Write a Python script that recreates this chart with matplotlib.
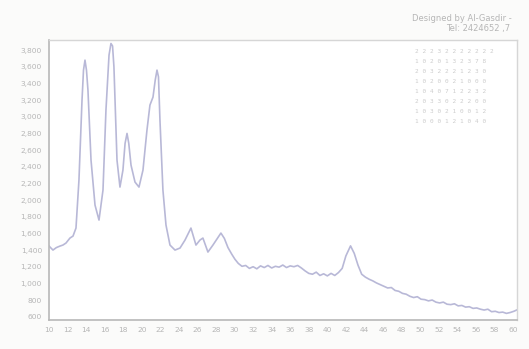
import matplotlib
matplotlib.use("Agg")
import matplotlib.pyplot as plt
from matplotlib.ticker import FuncFormatter

# 2-theta (degrees) and intensity (counts) of the diffraction scan
two_theta = [
    10.00, 10.11, 10.43, 10.80, 11.19, 11.50, 11.83, 12.26, 12.59, 12.91,
    13.23, 13.56, 13.72, 13.88, 14.04, 14.20, 14.53, 14.96, 15.39, 15.82,
    16.14, 16.47, 16.68, 16.85, 17.00, 17.33, 17.65, 17.97, 18.20, 18.41,
    18.60, 18.84, 19.27, 19.70, 20.13, 20.56, 20.88, 21.21, 21.45, 21.64,
    21.80, 21.96, 22.28, 22.61, 23.04, 23.58, 24.12, 24.66, 25.30, 25.84,
    26.27, 26.59, 27.13, 27.67, 28.53, 28.90, 29.29, 29.70, 30.04, 30.40,
    30.80, 31.20, 31.60, 32.00, 32.40, 32.80, 33.20, 33.60, 34.00, 34.40,
    34.80, 35.20, 35.60, 36.00, 36.40, 36.80, 37.20, 37.60, 38.00, 38.40,
    38.80, 39.20, 39.60, 40.00, 40.40, 40.80, 41.20, 41.60, 42.00, 42.50,
    42.90, 43.30, 43.70, 44.10, 44.50, 44.90, 45.30, 45.70, 46.10, 46.50,
    46.90, 47.30, 47.70, 48.10, 48.50, 48.90, 49.30, 49.70, 50.10, 50.50,
    50.90, 51.30, 51.70, 52.10, 52.50, 52.90, 53.30, 53.70, 54.10, 54.50,
    54.90, 55.30, 55.70, 56.10, 56.50, 56.90, 57.30, 57.70, 58.10, 58.50,
    58.90, 59.30, 59.70, 60.10, 60.40,
]
intensity = [
    1450, 1436, 1400, 1430, 1448, 1460, 1484, 1544, 1568, 1664,
    2240, 3200, 3560, 3680, 3560, 3320, 2480, 1940, 1760, 2120,
    3080, 3740, 3880, 3850, 3600, 2480, 2156, 2360, 2680, 2800,
    2680, 2420, 2216, 2156, 2360, 2840, 3140, 3236, 3440, 3560,
    3480, 2960, 2120, 1700, 1460, 1400, 1424, 1520, 1664, 1460,
    1520, 1544, 1376, 1460, 1604, 1540, 1430, 1350, 1290, 1240,
    1205, 1215, 1180, 1200, 1175, 1210, 1190, 1215, 1185, 1205,
    1195, 1220, 1190, 1210, 1200, 1215, 1185, 1150, 1120, 1110,
    1135, 1095, 1115, 1090, 1120, 1095, 1130, 1180, 1330, 1450,
    1360, 1220, 1110, 1075, 1050, 1030, 1005, 985, 965, 945,
    950, 915, 905, 880, 870, 845, 830, 840, 810, 805,
    790, 800, 775, 765, 775, 750, 745, 755, 730, 735,
    715, 720, 700, 705, 690, 680, 690, 660, 665, 650,
    655, 640, 650, 665, 680,
]

x_ticks = list(range(10, 61, 2))
y_ticks = list(range(600, 3801, 200))

credit_lines = ["Designed by Al-Gasdir -", "Tel: 2424652 ,7"]
table_rows = [
    "2 2 2 3 2 2 2 2 2 2 2",
    "1 0 2 0 1 3 2 3 7 8",
    "2 0 3 2 2 2 1 2 3 0",
    "1 0 2 0 0 2 1 0 0 0",
    "1 0 4 0 7 1 2 2 3 2",
    "2 0 3 3 0 2 2 2 0 0",
    "1 0 3 0 2 1 0 0 1 2",
    "1 0 0 0 1 2 1 0 4 0",
]

line_color = "#acacd0"
text_color = "#b6b6b6"

fig = plt.figure(figsize=(5.29, 3.49), dpi=100)
fig.patch.set_facecolor("#fbfbfa")
ax = fig.add_axes([0.0926, 0.083, 0.884, 0.802])
ax.set_facecolor("#ffffff")

ax.plot(two_theta, intensity, color=line_color, linewidth=1.2, alpha=0.85)

ax.set_xlim(10, 60.4)
ax.set_ylim(560, 3920)
ax.set_xticks(x_ticks)
ax.set_yticks(y_ticks)
ax.yaxis.set_major_formatter(FuncFormatter(lambda v, p: f"{int(v):,}"))
ax.tick_params(axis="both", length=0, labelsize=5.4, colors=text_color, pad=5)

for side in ("left", "bottom"):
    ax.spines[side].set_color("#b8b8b8")
    ax.spines[side].set_linewidth(1.2)
for side in ("top", "right"):
    ax.spines[side].set_color("#d6d6d6")
    ax.spines[side].set_linewidth(1.0)

fig.text(0.968, 0.948, credit_lines[0], ha="right", va="center",
         fontsize=6.0, color=text_color)
fig.text(0.965, 0.918, credit_lines[1], ha="right", va="center",
         fontsize=6.0, color=text_color)

for i, row in enumerate(table_rows):
    ax.text(0.782, 0.97 - i * 0.036, row, transform=ax.transAxes,
            ha="left", va="top", fontsize=4.4, color="#cccccc",
            family="DejaVu Sans Mono")

fig.savefig("out.png", dpi=100, facecolor=fig.get_facecolor())
